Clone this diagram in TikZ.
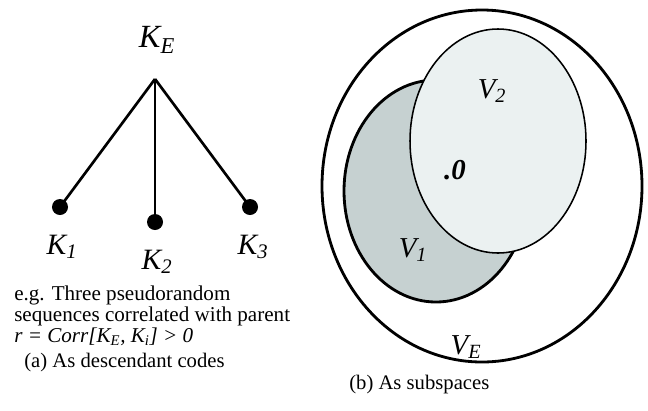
\documentclass[tikz,border=0pt]{standalone}
\usepackage{fontspec}
\setmainfont{Liberation Serif}
\newfontfamily\timesfont{Liberation Serif}
\usepackage{tikz}
\usetikzlibrary{positioning, calc}
\definecolor{vonefill}{HTML}{C6D1D1}
\definecolor{vtwofill}{HTML}{EBF1F1}

\begin{document}
\begin{tikzpicture}[x=0.025cm, y=-0.025cm, every node/.style={font=\timesfont\fontsize{15}{13}\selectfont, inner sep=0pt}]
    % Define styles
    \tikzset{
        branch/.style={line width=1.9pt, black},
        leaf/.style={circle, fill=black, minimum size=0.4cm, inner sep=0pt},
        keylabel/.style={font=\timesfont\fontsize{21}{23}\selectfont\itshape},
        spacelabel/.style={font=\timesfont\fontsize{20.5}{22}\selectfont\itshape},
        caption/.style={font=\timesfont\fontsize{14.7}{17}\selectfont, anchor=west}
    }
    \useasboundingbox (0,0) rectangle (648,410);

    % --- (a) AS DESCENDANT CODES ---
    \node (KE) [keylabel, font=\timesfont\fontsize{23}{25}\selectfont\itshape] at (157,40) {K\textsubscript{E}};
    \coordinate (apex) at (155,79);

    \node (k1) [leaf] at (60,207) {};
    \node (k2) [leaf] at (155,222) {};
    \node (k3) [leaf] at (250,207) {};

    \node (K1) [keylabel] at (62,247) {K\textsubscript{1}};
    \node (K2) [keylabel] at (157,262) {K\textsubscript{2}};
    \node (K3) [keylabel] at (253,247) {K\textsubscript{3}};

    \draw[branch] (apex) -- (k1.center);
    \draw[branch] (apex) -- (k2.center);
    \draw[branch] (apex) -- (k3.center);

    \node (note) [anchor=north west, align=left] at (14,286) {e.g. Three pseudorandom\\sequences correlated with parent\\\textit{r = Corr[K\textsubscript{E}, K\textsubscript{i}] > 0}};
    \node (capa) [caption] at (24,363) {(a) As descendant codes};

    % --- (b) AS SUBSPACES ---
    \draw[line width=2pt] (482,186) ellipse [x radius=160, y radius=176];
    \draw[line width=2pt, fill=vonefill] (436,191) ellipse [x radius=92, y radius=111];
    \draw[line width=1.1pt, fill=vtwofill] (498,141) ellipse [x radius=88, y radius=112];

    \node (V2) [spacelabel] at (492,91) {V\textsubscript{2}};
    \node (zero) [spacelabel, font=\timesfont\fontsize{20.5}{22}\selectfont\bfseries\itshape] at (455,170) {.0};
    \node (V1) [spacelabel] at (413,250) {V\textsubscript{1}};
    \node (VE) [spacelabel] at (466,347) {V\textsubscript{E}};
    \node (capb) [caption] at (349,385) {(b) As subspaces};
\end{tikzpicture}
\end{document}
